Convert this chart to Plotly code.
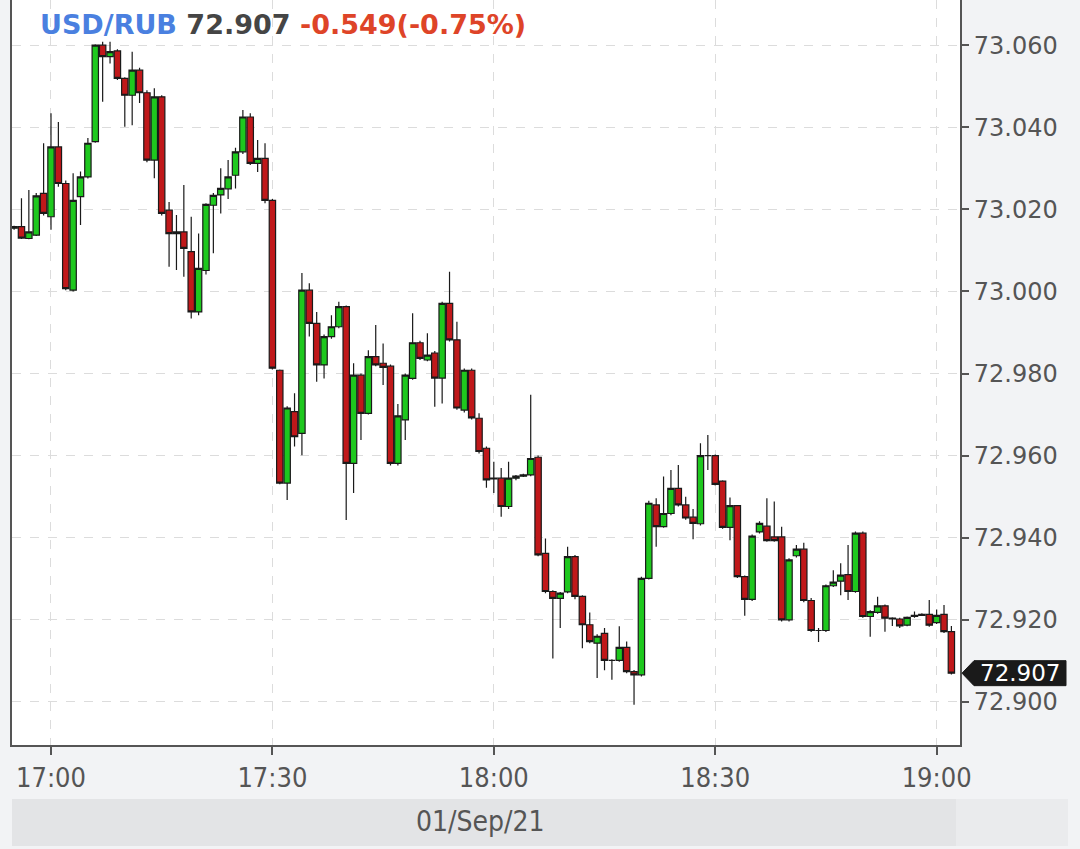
import pandas as pd
import plotly.graph_objects as go

# ---- data (1-minute candles, 01 Sep 2021, 16:55 .. 19:02) ----
start_time = "2021-09-01 16:55"
n_candles = 128
times = pd.date_range(start_time, periods=n_candles, freq="min")

opens = [
    73.0154, 73.0158, 73.0129, 73.0137, 73.0239,
    73.0182, 73.0352, 73.0263, 73.0003, 73.0231,
    73.0279, 73.0365, 73.0600, 73.0572, 73.0586,
    73.0519, 73.0478, 73.0539, 73.0484, 73.0320,
    73.0474, 73.0198, 73.0141, 73.0145, 73.0097,
    72.9950, 73.0051, 73.0210, 73.0235, 73.0250,
    73.0283, 73.0340, 73.0425, 73.0312, 73.0324,
    73.0222, 72.9808, 72.9533, 72.9707, 72.9654,
    73.0003, 72.9922, 72.9821, 72.9890, 72.9914,
    72.9963, 72.9581, 72.9796, 72.9703, 72.9841,
    72.9825, 72.9818, 72.9581, 72.9687, 72.9788,
    72.9875, 72.9833, 72.9850, 72.9789, 72.9971,
    72.9882, 72.9711, 72.9808, 72.9691, 72.9618,
    72.9545, 72.9545, 72.9476, 72.9545, 72.9550,
    72.9553, 72.9596, 72.9362, 72.9269, 72.9252,
    72.9268, 72.9354, 72.9257, 72.9188, 72.9143,
    72.9167, 72.9101, 72.9101, 72.9133, 72.9074,
    72.9066, 72.9301, 72.9480, 72.9427, 72.9459,
    72.9520, 72.9480, 72.9450, 72.9434, 72.9600,
    72.9600, 72.9538, 72.9425, 72.9478, 72.9305,
    72.9250, 72.9414, 72.9428, 72.9402, 72.9402,
    72.9200, 72.9356, 72.9372, 72.9247, 72.9174,
    72.9174, 72.9283, 72.9294, 72.9310, 72.9269,
    72.9411, 72.9208, 72.9218, 72.9234, 72.9204,
    72.9202, 72.9187, 72.9208, 72.9211, 72.9213,
    72.9193, 72.9213, 72.9171,
]
highs = [
    73.0160, 73.0227, 73.0247, 73.0240, 73.0361,
    73.0434, 73.0413, 73.0270, 73.0288, 73.0292,
    73.0374, 73.0602, 73.0608, 73.0608, 73.0590,
    73.0522, 73.0584, 73.0545, 73.0490, 73.0495,
    73.0478, 73.0218, 73.0186, 73.0259, 73.0182,
    73.0141, 73.0215, 73.0240, 73.0300, 73.0320,
    73.0350, 73.0442, 73.0434, 73.0369, 73.0361,
    73.0225, 72.9810, 72.9720, 72.9752, 73.0045,
    73.0020, 72.9950, 72.9895, 72.9942, 72.9975,
    72.9966, 72.9825, 72.9800, 72.9857, 72.9918,
    72.9873, 72.9822, 72.9726, 72.9800, 72.9947,
    72.9880, 72.9898, 72.9855, 72.9975, 73.0048,
    72.9926, 72.9812, 72.9812, 72.9703, 72.9622,
    72.9585, 72.9570, 72.9585, 72.9553, 72.9556,
    72.9748, 72.9600, 72.9398, 72.9272, 72.9268,
    72.9378, 72.9358, 72.9260, 72.9218, 72.9165,
    72.9180, 72.9104, 72.9184, 72.9147, 72.9078,
    72.9305, 72.9490, 72.9496, 72.9549, 72.9565,
    72.9577, 72.9500, 72.9470, 72.9630, 72.9650,
    72.9603, 72.9540, 72.9498, 72.9480, 72.9308,
    72.9408, 72.9440, 72.9496, 72.9488, 72.9427,
    72.9350, 72.9382, 72.9388, 72.9253, 72.9180,
    72.9286, 72.9321, 72.9338, 72.9382, 72.9415,
    72.9415, 72.9223, 72.9256, 72.9237, 72.9206,
    72.9205, 72.9208, 72.9220, 72.9216, 72.9248,
    72.9225, 72.9236, 72.9185,
]
lows = [
    73.0150, 73.0128, 73.0127, 73.0135, 73.0185,
    73.0150, 73.0255, 73.0003, 73.0000, 73.0162,
    73.0275, 73.0362, 73.0462, 73.0555, 73.0515,
    73.0401, 73.0405, 73.0459, 73.0315, 73.0276,
    73.0185, 73.0060, 73.0052, 73.0036, 72.9934,
    72.9942, 73.0041, 73.0093, 73.0190, 73.0225,
    73.0251, 73.0335, 73.0308, 73.0291, 73.0215,
    72.9810, 72.9530, 72.9492, 72.9622, 72.9601,
    72.9890, 72.9780, 72.9788, 72.9885, 72.9910,
    72.9443, 72.9509, 72.9638, 72.9700, 72.9818,
    72.9772, 72.9576, 72.9576, 72.9638, 72.9785,
    72.9833, 72.9830, 72.9719, 72.9727, 72.9878,
    72.9712, 72.9705, 72.9688, 72.9605, 72.9522,
    72.9509, 72.9451, 72.9470, 72.9540, 72.9548,
    72.9550, 72.9355, 72.9265, 72.9106, 72.9180,
    72.9265, 72.9250, 72.9131, 72.9143, 72.9058,
    72.9077, 72.9054, 72.9098, 72.9070, 72.8993,
    72.9062, 72.9298, 72.9378, 72.9424, 72.9455,
    72.9476, 72.9444, 72.9396, 72.9430, 72.9565,
    72.9527, 72.9422, 72.9394, 72.9302, 72.9210,
    72.9246, 72.9410, 72.9390, 72.9390, 72.9196,
    72.9196, 72.9352, 72.9243, 72.9170, 72.9146,
    72.9170, 72.9280, 72.9260, 72.9248, 72.9266,
    72.9205, 72.9159, 72.9215, 72.9171, 72.9185,
    72.9180, 72.9184, 72.9205, 72.9209, 72.9183,
    72.9190, 72.9168, 72.9067,
]
closes = [
    73.0158, 73.0130, 73.0145, 73.0233, 73.0190,
    73.0352, 73.0263, 73.0007, 73.0222, 73.0279,
    73.0361, 73.0600, 73.0572, 73.0584, 73.0519,
    73.0478, 73.0539, 73.0484, 73.0320, 73.0474,
    73.0190, 73.0141, 73.0145, 73.0105, 72.9950,
    73.0056, 73.0212, 73.0234, 73.0251, 73.0279,
    73.0340, 73.0425, 73.0312, 73.0324, 73.0222,
    72.9813, 72.9533, 72.9716, 72.9646, 73.0003,
    72.9922, 72.9821, 72.9890, 72.9914, 72.9963,
    72.9581, 72.9796, 72.9703, 72.9841, 72.9821,
    72.9815, 72.9581, 72.9697, 72.9796, 72.9875,
    72.9837, 72.9845, 72.9789, 72.9971, 72.9882,
    72.9716, 72.9808, 72.9692, 72.9610, 72.9541,
    72.9543, 72.9476, 72.9545, 72.9550, 72.9553,
    72.9593, 72.9358, 72.9269, 72.9252, 72.9265,
    72.9354, 72.9257, 72.9188, 72.9147, 72.9160,
    72.9101, 72.9101, 72.9133, 72.9074, 72.9066,
    72.9301, 72.9484, 72.9427, 72.9459, 72.9520,
    72.9480, 72.9448, 72.9435, 72.9600, 72.9600,
    72.9530, 72.9425, 72.9478, 72.9305, 72.9250,
    72.9404, 72.9435, 72.9393, 72.9393, 72.9200,
    72.9346, 72.9372, 72.9247, 72.9174, 72.9174,
    72.9283, 72.9292, 72.9309, 72.9269, 72.9411,
    72.9208, 72.9220, 72.9234, 72.9204, 72.9202,
    72.9185, 72.9206, 72.9211, 72.9213, 72.9187,
    72.9211, 72.9171, 72.9070,
]

symbol = "USD/RUB"
last_price = "72.907"
change_text = "-0.549(-0.75%)"
date_label = "01/Sep/21"
y_tick_values = [72.900, 72.920, 72.940, 72.960, 72.980, 73.000, 73.020, 73.040, 73.060]
x_tick_values = ["2021-09-01 17:00", "2021-09-01 17:30", "2021-09-01 18:00",
                 "2021-09-01 18:30", "2021-09-01 19:00"]
x_range = ["2021-09-01 16:54:43", "2021-09-01 19:03:10"]
y_range = [72.8895, 73.0710]

# ---- figure ----
W, H = 1080, 849
ML, MR, MT, MB = 12, 120, 0, 104
plot_w = W - ML - MR
plot_h = H - MT - MB

def px_x(px):
    return (px - ML) / plot_w

def px_y(py):
    return (H - MB - py) / plot_h

cond = "DejaVu Sans Condensed, DejaVu Sans, sans-serif"
axis_col = "#555555"

fig = go.Figure(go.Candlestick(
    x=times, open=opens, high=highs, low=lows, close=closes,
    increasing=dict(fillcolor="#1ec81e", line=dict(color="#1a1a1a", width=1.2)),
    decreasing=dict(fillcolor="#c0181a", line=dict(color="#1a1a1a", width=1.2)),
    whiskerwidth=0, showlegend=False, hoverinfo="skip",
))

fig.update_layout(
    width=W, height=H,
    margin=dict(l=ML, r=MR, t=MT, b=MB, pad=0, autoexpand=False),
    paper_bgcolor="#f2f3f5", plot_bgcolor="#ffffff",
    boxgap=0.14, boxgroupgap=0.0,
    xaxis=dict(
        range=x_range, type="date",
        tickvals=x_tick_values, tickformat="%H:%M",
        ticks="outside", ticklen=8, tickwidth=2, tickcolor=axis_col,
        showline=True, linecolor=axis_col, linewidth=2,
        showgrid=True, gridcolor="#dcdcdc", griddash="dash", gridwidth=1,
        tickfont=dict(family=cond, size=27, color=axis_col),
        rangeslider=dict(visible=False), zeroline=False,
    ),
    yaxis=dict(
        range=y_range, side="right", tickvals=y_tick_values, tickformat=".3f",
        ticks="outside", ticklen=7, tickwidth=1.5, tickcolor=axis_col,
        showline=True, linecolor=axis_col, linewidth=2, mirror=True,
        showgrid=True, gridcolor="#dcdcdc", griddash="dash", gridwidth=1,
        tickfont=dict(family="DejaVu Sans, sans-serif", size=24, color=axis_col),
        zeroline=False,
    ),
)

# header text
fig.add_annotation(
    xref="paper", yref="paper", x=px_x(38), y=px_y(25),
    xanchor="left", yanchor="middle", showarrow=False,
    text=(f"<b><span style='color:#4a80e0'>{symbol}</span> "
          f"<span style='color:#454545'>{last_price}</span> "
          f"<span style='color:#de4428'>{change_text}</span></b>"),
    font=dict(family="DejaVu Sans, sans-serif", size=27),
)

# last-price tag on the right axis
last_close = closes[-1]
half_h = 12.5 * (y_range[1] - y_range[0]) / plot_h
x_tip, x_body, x_end = px_x(962), px_x(974), px_x(1066)
fig.add_shape(
    type="path", xref="paper", yref="y", layer="above",
    path=(f"M {x_tip} {last_close} L {x_body} {last_close + half_h} "
          f"L {x_end} {last_close + half_h} L {x_end} {last_close - half_h} "
          f"L {x_body} {last_close - half_h} Z"),
    fillcolor="#1a1a1a", line=dict(color="#1a1a1a", width=1),
)
fig.add_annotation(
    xref="paper", yref="y", x=(x_body + x_end) / 2, y=last_close,
    xanchor="center", yanchor="middle", showarrow=False,
    text=last_price, font=dict(family="DejaVu Sans, sans-serif", size=23, color="#ffffff"),
)

# date band below the time axis
fig.add_shape(type="rect", xref="paper", yref="paper", layer="below",
              x0=px_x(12), x1=px_x(956), y0=px_y(846), y1=px_y(799),
              fillcolor="#e3e4e6", line=dict(width=0))
fig.add_shape(type="rect", xref="paper", yref="paper", layer="below",
              x0=px_x(956), x1=px_x(1068), y0=px_y(846), y1=px_y(799),
              fillcolor="#eaebed", line=dict(width=0))
fig.add_annotation(
    xref="paper", yref="paper", x=px_x(480), y=px_y(822),
    xanchor="center", yanchor="middle", showarrow=False,
    text=date_label, font=dict(family=cond, size=28, color=axis_col),
)

fig.write_html(
    "out.html",
    config={"displayModeBar": False},
    post_script="document.body.style.margin='0';document.body.style.overflow='hidden';",
)
